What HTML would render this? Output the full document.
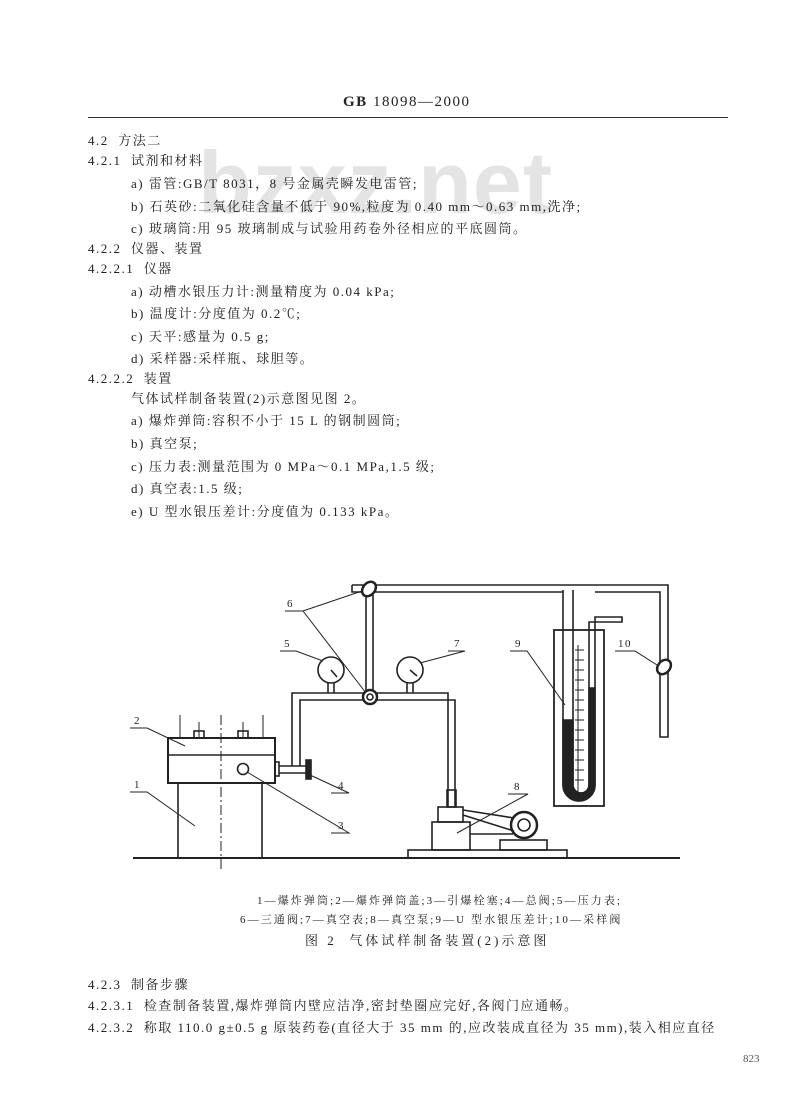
<!DOCTYPE html>
<html><head><meta charset="utf-8"><style>
body{margin:0;background:#fff;}
#p{position:relative;width:800px;height:1110px;overflow:hidden;background:#fff;font-family:"Liberation Serif","Noto Serif CJK SC","Noto Sans CJK SC",serif;color:#222;}
.t{position:absolute;font-size:13px;white-space:nowrap;line-height:16px;letter-spacing:1.5px;}
.wm{position:absolute;left:198px;top:132px;font-family:"Liberation Sans",sans-serif;font-weight:bold;font-size:88px;color:#e4e4e4;letter-spacing:1px;}
</style></head><body><div id="p">
<div class="wm">bzxz.net</div>
<div class="t" style="left:343px;top:94px;font-size:15px;letter-spacing:1.5px;"><b>GB</b> 18098—2000</div>
<div style="position:absolute;left:88px;top:117px;width:640px;height:1px;background:#333;"></div>
<div class="t" style="left:88px;top:133px;">4.2&nbsp;&nbsp;方法二</div>
<div class="t" style="left:88px;top:153px;">4.2.1&nbsp;&nbsp;试剂和材料</div>
<div class="t" style="left:131px;top:176px;">a) 雷管:GB/T 8031，8 号金属壳瞬发电雷管;</div>
<div class="t" style="left:131px;top:199px;">b) 石英砂:二氧化硅含量不低于 90%,粒度为 0.40 mm～0.63 mm,洗净;</div>
<div class="t" style="left:131px;top:221px;">c) 玻璃筒:用 95 玻璃制成与试验用药卷外径相应的平底圆筒。</div>
<div class="t" style="left:88px;top:241px;">4.2.2&nbsp;&nbsp;仪器、装置</div>
<div class="t" style="left:88px;top:261px;">4.2.2.1&nbsp;&nbsp;仪器</div>
<div class="t" style="left:131px;top:284px;">a) 动槽水银压力计:测量精度为 0.04 kPa;</div>
<div class="t" style="left:131px;top:306px;">b) 温度计:分度值为 0.2℃;</div>
<div class="t" style="left:131px;top:329px;">c) 天平:感量为 0.5 g;</div>
<div class="t" style="left:131px;top:351px;">d) 采样器:采样瓶、球胆等。</div>
<div class="t" style="left:88px;top:371px;">4.2.2.2&nbsp;&nbsp;装置</div>
<div class="t" style="left:131px;top:391px;">气体试样制备装置(2)示意图见图 2。</div>
<div class="t" style="left:131px;top:413px;">a) 爆炸弹筒:容积不小于 15 L 的钢制圆筒;</div>
<div class="t" style="left:131px;top:436px;">b) 真空泵;</div>
<div class="t" style="left:131px;top:459px;">c) 压力表:测量范围为 0 MPa～0.1 MPa,1.5 级;</div>
<div class="t" style="left:131px;top:481px;">d) 真空表:1.5 级;</div>
<div class="t" style="left:131px;top:504px;">e) U 型水银压差计:分度值为 0.133 kPa。</div>

<svg style="position:absolute;left:0;top:0" width="800" height="1110" fill="none" stroke="#222" stroke-width="1.6">
<line x1="133" y1="858" x2="680" y2="858" stroke-width="2"/>
<rect x="178" y="783" width="84" height="75"/>
<rect x="168" y="738" width="107" height="45" stroke-width="2"/>
<line x1="168" y1="755" x2="275" y2="755"/>
<line x1="221" y1="715" x2="221" y2="872" stroke-dasharray="10,3,2,3" stroke-width="1"/>
<line x1="180" y1="715" x2="180" y2="738" stroke-width="1"/>
<line x1="263" y1="715" x2="263" y2="738" stroke-width="1"/>
<rect x="194" y="731" width="10" height="7"/><line x1="199" y1="722" x2="199" y2="738" stroke-width="1"/>
<rect x="238" y="731" width="10" height="7"/><line x1="243" y1="722" x2="243" y2="738" stroke-width="1"/>
<circle cx="243" cy="769" r="5.5"/>
<rect x="275" y="762" width="4" height="14"/>
<line x1="279" y1="766" x2="307" y2="766"/><line x1="279" y1="773" x2="307" y2="773"/>
<rect x="306" y="760" width="5" height="19" fill="#222"/>
<path d="M292 766 V693 H448 V807"/>
<path d="M300 766 V700 H455 V807" />
<rect x="447" y="790" width="9" height="17"/>
<line x1="328" y1="683" x2="328" y2="693"/><line x1="334" y1="683" x2="334" y2="693"/>
<circle cx="331" cy="670" r="13"/>
<line x1="331" y1="670" x2="337" y2="677"/>
<line x1="407" y1="683" x2="407" y2="693"/><line x1="413" y1="683" x2="413" y2="693"/>
<circle cx="410" cy="670" r="13"/>
<line x1="410" y1="670" x2="417" y2="676"/>
<circle cx="370" cy="697" r="7" fill="#fff" stroke-width="2.5"/>
<circle cx="370" cy="697" r="3"/>
<line x1="366" y1="595" x2="366" y2="690"/><line x1="373" y1="595" x2="373" y2="690"/>
<path d="M352 585 H668 V737 H660 V592 H595"/>
<path d="M352 585 V592 H563"/>
<ellipse cx="369" cy="589" rx="6" ry="8" transform="rotate(40 369 589)" fill="#fff" stroke-width="2.5"/>
<rect x="554" y="630" width="50" height="176" stroke-width="1.8"/>
<path d="M563 590 V785 A15 15 0 0 0 595 785 V617 H622 V622 H589 V785 A8 8 0 0 1 573 785 V590"/>
<path d="M563 720 V785 A15 15 0 0 0 595 785 V688 H589 V785 A8 8 0 0 1 573 785 V720 Z" fill="#222"/>
<g stroke-width="1">
<line x1="578" y1="645" x2="578" y2="792"/>
<line x1="575" y1="650" x2="584" y2="650"/><line x1="575" y1="660" x2="584" y2="660"/><line x1="575" y1="670" x2="584" y2="670"/><line x1="575" y1="680" x2="584" y2="680"/><line x1="575" y1="690" x2="584" y2="690"/><line x1="575" y1="700" x2="584" y2="700"/><line x1="575" y1="710" x2="584" y2="710"/><line x1="575" y1="720" x2="584" y2="720"/><line x1="575" y1="730" x2="584" y2="730"/><line x1="575" y1="740" x2="584" y2="740"/><line x1="575" y1="750" x2="584" y2="750"/><line x1="575" y1="760" x2="584" y2="760"/><line x1="575" y1="770" x2="584" y2="770"/><line x1="575" y1="780" x2="584" y2="780"/>
</g>
<ellipse cx="664" cy="667" rx="6" ry="8" transform="rotate(40 664 667)" fill="#fff" stroke-width="2.5"/>
<rect x="438" y="807" width="25" height="15"/>
<rect x="432" y="822" width="38" height="28"/>
<rect x="408" y="850" width="159" height="8"/>
<rect x="500" y="840" width="47" height="10"/>
<line x1="470" y1="834" x2="513" y2="834"/>
<line x1="463" y1="810" x2="514" y2="818"/><line x1="463" y1="815" x2="514" y2="831"/>
<circle cx="524" cy="825" r="13" stroke-width="2.5"/>
<circle cx="524" cy="825" r="6"/>
<g stroke-width="1">
<path d="M285 611 H303 L362 591"/><line x1="303" y1="611" x2="366" y2="693"/>
<path d="M280 651 H296 L323 661"/>
<path d="M448 651 H465 L420 663"/>
<path d="M510 651 H527 L565 705"/>
<path d="M615 651 H635 L657 665"/>
<path d="M130 728 H147 L185 746"/>
<path d="M130 792 H147 L195 826"/>
<path d="M331 793 H349 L310 775"/>
<path d="M331 833 H349 L247 772"/>
<path d="M508 794 H528 L457 833"/>
</g>
</svg>
<div class="t" style="left:287px;top:596px;font-size:11px;">6</div>
<div class="t" style="left:284px;top:636px;font-size:11px;">5</div>
<div class="t" style="left:454px;top:636px;font-size:11px;">7</div>
<div class="t" style="left:515px;top:636px;font-size:11px;">9</div>
<div class="t" style="left:618px;top:636px;font-size:11px;">10</div>
<div class="t" style="left:134px;top:713px;font-size:11px;">2</div>
<div class="t" style="left:134px;top:777px;font-size:11px;">1</div>
<div class="t" style="left:338px;top:778px;font-size:11px;">4</div>
<div class="t" style="left:338px;top:818px;font-size:11px;">3</div>
<div class="t" style="left:514px;top:779px;font-size:11px;">8</div>

<div class="t" style="left:257px;top:893px;font-size:11px;letter-spacing:2.1px;">1—爆炸弹筒;2—爆炸弹筒盖;3—引爆栓塞;4—总阀;5—压力表;</div>
<div class="t" style="left:240px;top:912px;font-size:11px;letter-spacing:2.1px;">6—三通阀;7—真空表;8—真空泵;9—U 型水银压差计;10—采样阀</div>
<div class="t" style="left:305px;top:933px;letter-spacing:3px;">图 2&nbsp;&nbsp;气体试样制备装置(2)示意图</div>

<div class="t" style="left:88px;top:977px;">4.2.3&nbsp;&nbsp;制备步骤</div>
<div class="t" style="left:88px;top:998px;">4.2.3.1&nbsp;&nbsp;检查制备装置,爆炸弹筒内壁应洁净,密封垫圈应完好,各阀门应通畅。</div>
<div class="t" style="left:88px;top:1020px;">4.2.3.2&nbsp;&nbsp;称取 110.0 g±0.5 g 原装药卷(直径大于 35 mm 的,应改装成直径为 35 mm),装入相应直径</div>
<div class="t" style="left:743px;top:1051px;font-size:11px;color:#555;letter-spacing:0;">823</div>
</div></body></html>
